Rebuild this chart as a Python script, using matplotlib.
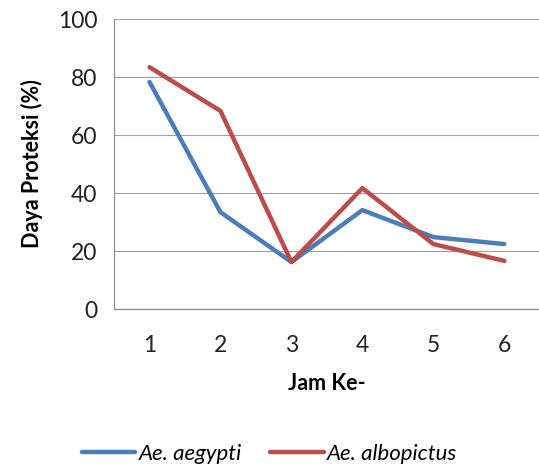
import matplotlib
matplotlib.use("Agg")
import matplotlib.pyplot as plt

plt.rcParams['font.family'] = ['Lato', 'DejaVu Sans']

jam = ["1", "2", "3", "4", "5", "6"]
aegypti = [78.3, 33.4, 16.2, 34.1, 24.8, 22.4]
albopictus = [83.4, 68.3, 16.2, 41.7, 22.4, 16.6]

fig = plt.figure(figsize=(5.39, 4.68), dpi=100)
ax = fig.add_axes([0.2115, 0.3397, 0.79, 0.6197])
x = range(len(jam))
ax.plot(x, aegypti, color="#4A7EBB", lw=3.2, label="Ae. aegypti", solid_capstyle="round")
ax.plot(x, albopictus, color="#BE4B48", lw=3.2, label="Ae. albopictus", solid_capstyle="round")

ax.set_xlim(-0.5, 5.5)
ax.set_ylim(0, 100)
ax.set_yticks(range(0, 101, 20))
ax.set_xticks(list(x))
ax.set_xticklabels(jam)
ax.tick_params(length=0, labelsize=16.5, labelcolor="#222222")
ax.tick_params(axis="y", pad=12)
ax.tick_params(axis="x", pad=19)
ax.grid(axis="y", color="#a0a0a0", lw=0.8)
ax.set_axisbelow(True)
for s in ["top", "right"]:
    ax.spines[s].set_visible(False)
for s in ["left", "bottom"]:
    ax.spines[s].set_color("#8c8c8c")
    ax.spines[s].set_linewidth(0.9)

ax.set_ylabel("Daya Proteksi (%)", fontsize=15.5, fontweight="bold", labelpad=11)
ax.set_xlabel("Jam Ke-", fontsize=15.5, fontweight="bold", labelpad=12)

fig.legend(loc="center", bbox_to_anchor=(0.5, 0.03), ncol=2, frameon=False,
           prop={"style": "italic", "size": 16}, handlelength=2.4,
           handletextpad=0.15, columnspacing=1.3)

fig.savefig("out.png", dpi=100)
